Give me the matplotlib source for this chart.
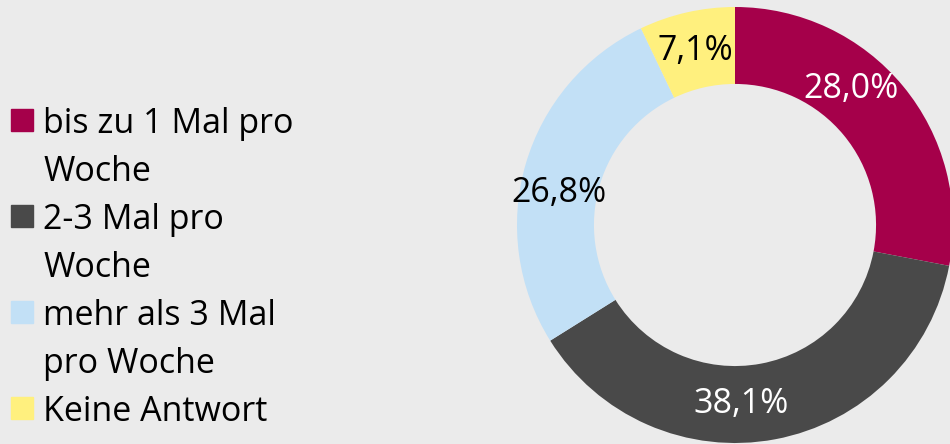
import matplotlib
matplotlib.use("Agg")
import matplotlib.pyplot as plt
from matplotlib.patches import Rectangle
import numpy as np

# ── data ──────────────────────────────────────────────────────────────────────
categories = ["bis zu 1 Mal pro\nWoche", "2-3 Mal pro\nWoche",
              "mehr als 3 Mal\npro Woche", "Keine Antwort"]
values = [28.0, 38.1, 26.8, 7.1]
value_labels = ["28,0%", "38,1%", "26,8%", "7,1%"]

colors = ["#A5004A", "#494949", "#C2E0F6", "#FFF07E"]
label_colors = ["white", "white", "black", "black"]
BG = "#EBEBEB"
W, H = 950, 444
FS = 24.5

plt.rcParams["font.family"] = ["Open Sans", "DejaVu Sans"]

fig = plt.figure(figsize=(W / 100, H / 100), dpi=100, facecolor=BG)

# ── donut ─────────────────────────────────────────────────────────────────────
cx, cy, R = 735, 219, 218   # pixel centre (from bottom) and outer radius
ax = fig.add_axes([(cx - R) / W, (cy - R) / H, 2 * R / W, 2 * R / H])
ax.set_facecolor(BG)
wedges, _ = ax.pie(values, colors=colors, startangle=90, counterclock=False,
                   radius=1, wedgeprops=dict(width=0.353, linewidth=0))
for w in wedges:
    w.set_clip_on(False)
ax.set_xlim(-1, 1); ax.set_ylim(-1, 1); ax.set_aspect("equal"); ax.axis("off")

# labels sit a little off the wedge middle, like the original layout
nudge = [10, -8.5, 6, 0]
for w, lab, c, dn in zip(wedges, value_labels, label_colors, nudge):
    ang = np.deg2rad((w.theta1 + w.theta2) / 2 + dn)
    ax.text(0.82 * np.cos(ang), 0.82 * np.sin(ang), lab, color=c,
            fontsize=FS, ha="center", va="center")

# ── legend (drawn by hand: square sits on the first line) ────────────────────
line = 0
for cat, c in zip(categories, colors):
    for k, part in enumerate(cat.split("\n")):
        y = (H - (120 + 48 * line)) / H
        if k == 0:
            fig.patches.append(Rectangle((11 / W, y - 11 / H), 22 / W, 22 / H,
                                         transform=fig.transFigure, color=c, figure=fig))
        fig.text(43 / W, y, part, fontsize=FS, va="center_baseline", ha="left", color="black")
        line += 1

fig.savefig("out.png", dpi=100, facecolor=BG)
